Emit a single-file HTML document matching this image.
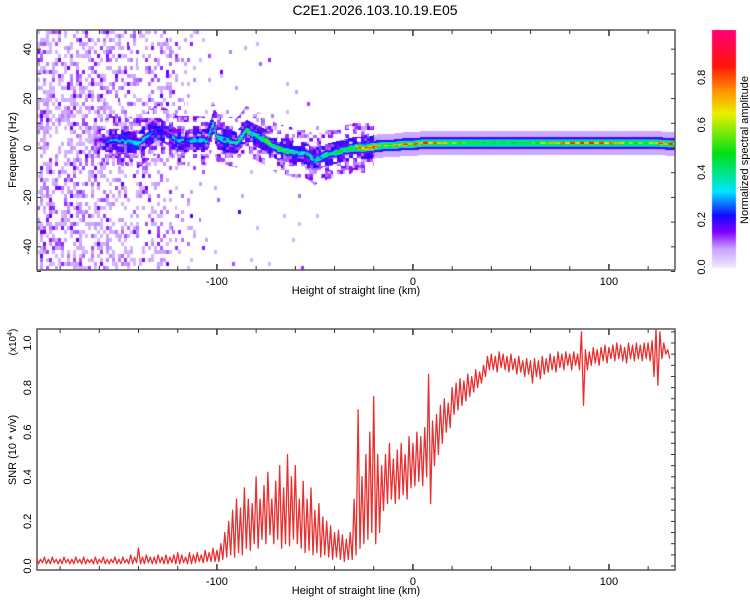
<!DOCTYPE html>
<html><head><meta charset="utf-8"><style>
html,body{margin:0;padding:0;background:#fff;}
#wrap{position:relative;width:750px;height:600px;font-family:"Liberation Sans",sans-serif;}
canvas,svg{position:absolute;left:0;top:0;}
</style></head><body>
<div id="wrap">
<canvas id="spec" width="750" height="600"></canvas>
<svg id="ax" width="750" height="600"></svg>
</div>
<script>
// ---- Data ----
const ridgeKm  = [-160,-150,-140,-130,-120,-110,-105,-102,-100,-95,-90,-85,-80,-75,-70,-65,-60,-55,-50,-45,-40,-35,-30,-25,-20,-15,-10,-5,0,5,10,20,30,40,50,60,70,80,90,100,110,120,125,134];
const ridgeHz  = [3,3,2,8,3,3,3,10,4,3,2,7,5,3,0,-1,-2,-2,-5,-3,-2,-1,0,0,0.5,1,1,1.5,1.5,2,2,2,2,2,2,2,2,2,2,2,2,2,2,1.5];
const ridgeAmp = [0.2,0.35,0.35,0.2,0.3,0.35,0.35,0.4,0.4,0.4,0.35,0.5,0.45,0.5,0.45,0.45,0.4,0.4,0.4,0.4,0.45,0.5,0.55,0.75,0.9,0.65,0.75,0.92,0.85,0.92,0.88,0.65,0.55,0.5,0.5,0.55,0.75,0.88,0.92,0.85,0.65,0.6,0.85,0.92];
const noiseKm      = [-192,-160,-140,-125,-118,-110,-105,-100,-60,-40];
const noiseDensity = [0.95,0.95,0.6,0.7,0.3,0.12,0.1,0.05,0.03,0.0];
const snrKmStart = -192, snrKmStep = 2;
const snrHi = [0.04,0.03,0.04,0.03,0.04,0.03,0.03,0.04,0.03,0.03,0.04,0.03,0.04,0.03,0.03,0.04,0.03,0.04,0.03,0.03,0.04,0.03,0.04,0.03,0.05,0.04,0.08,0.04,0.05,0.04,0.04,0.05,0.04,0.05,0.04,0.05,0.06,0.05,0.04,0.06,0.05,
0.06,0.05,0.07,0.06,0.08,0.07,0.1,0.15,0.2,0.25,0.3,0.26,0.35,0.3,0.28,0.4,0.3,0.36,0.42,0.3,0.38,0.45,0.35,0.5,0.4,0.45,0.3,0.38,0.3,0.35,0.25,0.28,0.22,0.2,0.18,0.15,0.16,0.14,0.12,0.15,0.3,0.7,0.4,0.5,0.6,0.76,0.5,0.45,0.5,0.55,0.48,0.52,0.55,0.5,0.58,0.55,0.6,0.58,0.62,0.86,0.65,0.68,0.72,0.75,0.73,0.8,0.82,0.84,0.83,0.86,0.85,0.88,0.87,0.9,0.94,0.95,0.94,0.96,0.95,0.94,0.95,0.93,0.94,0.92,0.93,0.92,0.93,0.92,0.94,0.93,0.95,0.94,0.96,0.95,0.96,0.95,0.96,0.95,1.05,0.97,0.96,0.98,0.97,0.98,0.99,0.98,0.99,1.0,0.99,0.98,1.0,0.99,1.0,0.99,1.0,1.0,1.01,1.06,1.05,1.0,0.97];
const snrLo = [0.01,0.015,0.01,0.01,0.015,0.01,0.01,0.015,0.01,0.01,0.015,0.01,0.01,0.015,0.01,0.01,0.015,0.01,0.01,0.015,0.01,0.01,0.015,0.01,0.01,0.015,0.01,0.01,0.015,0.01,0.01,0.015,0.01,0.01,0.015,0.01,0.01,0.015,0.01,0.01,0.015,
0.02,0.015,0.02,0.02,0.02,0.02,0.03,0.04,0.05,0.04,0.06,0.05,0.08,0.07,0.1,0.08,0.12,0.1,0.14,0.1,0.12,0.08,0.1,0.09,0.12,0.1,0.08,0.06,0.07,0.05,0.06,0.04,0.05,0.04,0.03,0.04,0.03,0.02,0.03,0.03,0.05,0.08,0.1,0.12,0.15,0.1,0.15,0.25,0.28,0.3,0.28,0.3,0.32,0.3,0.35,0.36,0.38,0.36,0.4,0.28,0.45,0.5,0.55,0.6,0.62,0.68,0.7,0.72,0.74,0.76,0.78,0.8,0.82,0.85,0.88,0.88,0.87,0.89,0.88,0.87,0.88,0.86,0.87,0.85,0.86,0.82,0.85,0.84,0.86,0.87,0.88,0.87,0.89,0.88,0.9,0.88,0.9,0.88,0.72,0.88,0.9,0.91,0.9,0.92,0.91,0.93,0.92,0.93,0.92,0.91,0.93,0.92,0.93,0.92,0.93,0.92,0.85,0.81,0.93,0.95,0.93];
const xTicks = [-100,0,100];
const freqTicks = [40,20,0,-20,-40];
const snrTicks = [0.0,0.2,0.4,0.6,0.8,1.0];
const cbTicks = [0.0,0.2,0.4,0.6,0.8];

// ---- Scales ----
const X0=37,X1=675,KM0=-191.8,KM1=133.7;
const xs=km=>X0+(km-KM0)/(KM1-KM0)*(X1-X0);
const kmOf=px=>KM0+(px-X0)/(X1-X0)*(KM1-KM0);
const T0=30,T1=270;
const ys=hz=>148-hz*2.47;
const yv=v=>566-223*v;
const B0=329,B1=570;
const CB={x:712,w:24,y0:267,y1:30};

const stops=[[0,[240,230,255]],[0.08,[200,160,255]],[0.15,[128,0,255]],[0.22,[20,10,255]],[0.32,[0,230,255]],[0.48,[0,225,20]],[0.65,[235,240,0]],[0.75,[255,140,0]],[0.85,[255,20,10]],[1,[255,0,120]]];
function cmap(v){v=Math.max(0,Math.min(1,v));for(let i=1;i<stops.length;i++){if(v<=stops[i][0]){const a=stops[i-1],b=stops[i],t=(v-a[0])/(b[0]-a[0]);return a[1].map((c,k)=>Math.round(c+(b[1][k]-c)*t));}}return stops[stops.length-1][1];}
function interp(xa,ya,x){if(x<=xa[0])return ya[0];for(let i=1;i<xa.length;i++)if(x<=xa[i]){const t=(x-xa[i-1])/(xa[i]-xa[i-1]);return ya[i-1]+(ya[i]-ya[i-1])*t;}return ya[ya.length-1];}
function hash(a,b){let h=(a*374761393+b*668265263)|0;h=(h^(h>>>13))*1274126177|0;return ((h^(h>>>16))>>>0)/4294967296;}

// ---- Spectrogram ----
const cv=document.getElementById('spec'),ctx=cv.getContext('2d');
const W=X1-X0,H=T1-T0;
const val=new Float32Array(W*H);
for(let px=0;px<W;px++){
  const km=kmOf(X0+px+0.5);
  const dens=interp(noiseKm,noiseDensity,km);
  if(dens>0){
    for(let py=0;py<H;py++){
      const cx=Math.floor(px/3),cy=Math.floor(py/4);
      const r=hash(cx+11,cy+7);
      if(r<dens*0.5){const i=py*W+px;val[i]=Math.max(val[i],0.05+0.14*hash(cx,cy+3)*hash(cx+5,cy));}
    }
  }
  if(km>=ridgeKm[0]-8){
    const c=interp(ridgeKm,ridgeHz,km),a=interp(ridgeKm,ridgeAmp,km);
    const fade=Math.min(1,Math.max(0,(km-(ridgeKm[0]-8))/10));
    for(let py=0;py<H;py++){
      const hz=(148-(T0+py+0.5))/2.47;const d=Math.abs(hz-c);
      let v=0;
      if(km>-20){
        const spot=((Math.floor(km/2.5))%2===0)?1:0.8;
        v=Math.max(a*spot*Math.exp(-(d/0.8)*(d/0.8)), 0.42*Math.exp(-Math.pow(d/1.8,4)));
        if(d<2.4&&v<0.2)v=Math.max(v,0.19);
        if(d<4.8&&v<0.07)v=0.07;
      }else{
        const hh=hash(Math.floor(px/3),Math.floor(py/3));
        const h2=hash(Math.floor(px/4)+3,Math.floor(py/4)+9);
        v=a*Math.exp(-(d/1.6)*(d/1.6))*(0.65+0.6*hh);
        if(d<4.5&&h2<0.85)v=Math.max(v,(0.1+0.14*hh)*fade);
        else if(d<10&&h2<0.45)v=Math.max(v,(0.06+0.1*hh)*fade);
        v*=fade;
      }
      val[py*W+px]=Math.max(val[py*W+px],v);
    }
  }
}
const img=ctx.createImageData(W,H);
for(let i=0;i<W*H;i++){const v=val[i];let c=[255,255,255];if(v>0.03)c=cmap(v);img.data[i*4]=c[0];img.data[i*4+1]=c[1];img.data[i*4+2]=c[2];img.data[i*4+3]=255;}
ctx.putImageData(img,X0,T0);
for(let y=CB.y1;y<=CB.y0;y++){const v=(CB.y0-y)/(CB.y0-CB.y1);const c=cmap(v);ctx.fillStyle=`rgb(${c})`;ctx.fillRect(CB.x,y,CB.w,1);}

// ---- SVG axes ----
const svg=document.getElementById('ax'),NS='http://www.w3.org/2000/svg';
function mk(tag,attrs,parent){const e=document.createElementNS(NS,tag);for(const k in attrs)e.setAttribute(k,attrs[k]);(parent||svg).appendChild(e);return e;}
function txt(s,x,y,size,rot,anchor){const e=mk('text',{x:x,y:y,'font-size':size,'text-anchor':anchor||'middle','font-family':'Liberation Sans, sans-serif',fill:'#000'});if(rot)e.setAttribute('transform',`rotate(${rot} ${x} ${y})`);e.textContent=s;return e;}

let t=txt('C2E1.2026.103.10.19.E05',375,15,14);


function frame(y0,y1,name){
  const r=mk('rect',{x:X0,y:y0,width:X1-X0,height:y1-y0,fill:'none',stroke:'#555','stroke-width':1.5});
  
  for(let km=-180;km<=130;km+=20){const x=xs(km);const maj=xTicks.includes(km);const L=maj?6:4;
    mk('line',{x1:x,y1:y1,x2:x,y2:y1-L,stroke:'#333','stroke-width':maj?1.5:1});
    mk('line',{x1:x,y1:y0,x2:x,y2:y0+L,stroke:'#333','stroke-width':maj?1.5:1});}
  xTicks.forEach(k=>{const e=txt(String(k),xs(k),y1+15,11);});
  const xt=txt('Height of straight line (km)',356,y1+24,11);
  
}
frame(T0,T1,'spectrogram-plot-frame');
for(let hz=-50;hz<=48;hz+=10){const y=ys(hz);mk('line',{x1:X1,y1:y,x2:X1-4,y2:y,stroke:'#333'});mk('line',{x1:X0,y1:y,x2:X0+4,y2:y,stroke:'#333'});}
freqTicks.forEach(h=>{const e=txt(String(h),31,ys(h),11,-90);});
t=txt('Frequency (Hz)',16,150,11,-90);

frame(B0,B1,'snr-plot-frame');
for(let v=0;v<=1.06;v+=0.05){const y=yv(v);mk('line',{x1:X1,y1:y,x2:X1-4,y2:y,stroke:'#333'});}
snrTicks.forEach(v=>{const e=txt(v.toFixed(1),31,yv(v),11,-90);});
t=txt('SNR (10 * v/v)',16,450,11,-90);
t=mk('text',{x:16,y:342,'font-size':10,'text-anchor':'middle','font-family':'Liberation Sans, sans-serif',transform:'rotate(-90 16 342)'});
t.innerHTML='(x10<tspan dy="-4" font-size="7">4</tspan><tspan dy="4">)</tspan>';


let pts=[];
for(let i=0;i<snrHi.length;i++){const km=snrKmStart+i*snrKmStep;if(km>KM1)break;pts.push(xs(km).toFixed(1)+','+yv(snrHi[i]).toFixed(1));if(km+1<=KM1)pts.push(xs(km+1).toFixed(1)+','+yv(snrLo[i]).toFixed(1));}
const pl=mk('polyline',{points:pts.join(' '),fill:'none',stroke:'#e83030','stroke-width':1.3,'stroke-linejoin':'round'});


const cbr=mk('rect',{x:CB.x,y:CB.y1,width:CB.w,height:CB.y0-CB.y1,fill:'none',stroke:'none'});

cbTicks.forEach(v=>{const y=CB.y0-v*(CB.y0-CB.y1);const e=txt(v.toFixed(1),705,y,11,-90);});
t=txt('Normalized spectral amplitude',748,150,11,-90);
</script>
</body></html>
